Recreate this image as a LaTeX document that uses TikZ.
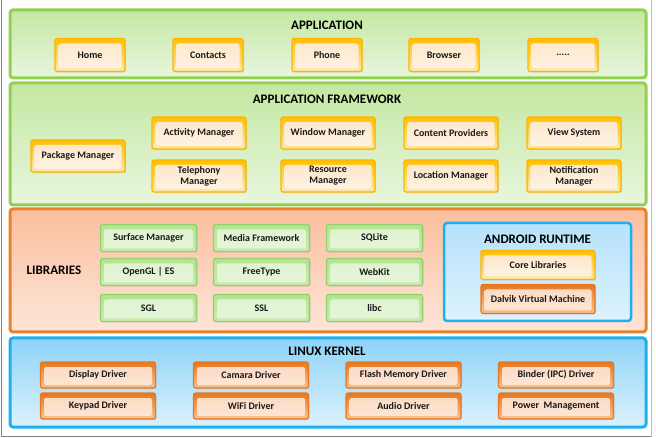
\documentclass[tikz,border=0pt]{standalone}
\usepackage{fontspec}
\setmainfont{Carlito}
\usetikzlibrary{shadows}
\definecolor{grnB}{HTML}{92D050}
\definecolor{grnT}{HTML}{C3E8A2}
\definecolor{grnBo}{HTML}{E9F6DE}
\definecolor{gold}{HTML}{FFC000}
\definecolor{goldL}{HTML}{FFE08A}
\definecolor{peach}{HTML}{FDE6C8}
\definecolor{peachL}{HTML}{FEF3E4}
\definecolor{orgB}{HTML}{E46C0A}
\definecolor{orgT}{HTML}{FBBF9E}
\definecolor{orgBo}{HTML}{FDE5D8}
\definecolor{libB}{HTML}{8FD16A}
\definecolor{libO}{HTML}{B4E38F}
\definecolor{libI}{HTML}{E6F6DA}
\definecolor{bluB}{HTML}{1CB1EE}
\definecolor{bluT}{HTML}{8ED3F7}
\definecolor{bluBo}{HTML}{DCF2FD}
\definecolor{rtT}{HTML}{B6E2FA}
\definecolor{rtBo}{HTML}{DDF2FD}
\definecolor{drvB}{HTML}{E8771E}
\definecolor{drvO}{HTML}{F7A763}
\definecolor{drvI}{HTML}{FCD9C0}
\definecolor{drvIL}{HTML}{FDE7D7}
\tikzset{
  layer/.style={rounded corners=3pt, line width=3pt},
  glayer/.style={layer, draw=grnB, top color=grnT, bottom color=grnBo},
  olayer/.style={layer, draw=orgB!85, top color=orgT, bottom color=orgBo},
  blayer/.style={layer, draw=bluB, top color=bluT, bottom color=bluBo},
  rlayer/.style={layer, line width=2.5pt, draw=bluB, top color=rtT, bottom color=rtBo},
  ttl/.style={font=\fontsize{13}{15}\selectfont\bfseries, text=black},
  lbl/.style={font=\fontsize{10}{11}\selectfont\bfseries, align=center, text=black!90},
  boxbase/.style={lbl, rounded corners=2pt, inner sep=1pt,
    drop shadow={opacity=0.18, shadow xshift=1pt, shadow yshift=-1.2pt}},
  inrect/.style n args={2}{path picture={
    \shade[top color=#1, bottom color=#2]
      ([shift={(3.5pt,-5pt)}]path picture bounding box.north west) rectangle
      ([shift={(-3.5pt,3pt)}]path picture bounding box.south east);}},
  appbox/.style={boxbase, draw=gold!80!orange, line width=1.2pt,
    top color=gold, bottom color=goldL!70!white, inrect={peach}{peachL}},
  libbox/.style={boxbase, draw=libB, line width=1.2pt,
    top color=libO, bottom color=libO!70!white, inrect={libI!85!libO}{libI}},
  drvbox/.style={boxbase, draw=drvB, line width=1.2pt,
    top color=drvB, bottom color=drvO!70!white, inrect={drvI}{drvIL}},
}
\begin{document}
\begin{tikzpicture}[x=1pt,y=-1pt]
\useasboundingbox (0,0) rectangle (656,438);
% outer frame (left, bottom, right)
\draw[black!50, line width=1pt] (1.5,0) -- (1.5,436.5) -- (651,436.5);
\draw[black!25, line width=1pt] (651,436.5) -- (651,0);

% ---------- APPLICATION ----------
\path[glayer] (10,10) rectangle (646,78);
\node[ttl] (tapp) at (327,25) {APPLICATION};
\begin{scope}[every node/.style={appbox, minimum width=70pt, minimum height=33pt}]
\node (home) at (90,55) {Home};
\node (contacts) at (208,55) {Contacts};
\node (phone) at (327,55) {Phone};
\node (browser) at (444,55) {Browser};
\node (more) at (563,55) {.....};
\end{scope}

% ---------- APPLICATION FRAMEWORK ----------
\path[glayer] (10,83) rectangle (646,205);
\node[ttl] (tfw) at (327,99) {APPLICATION FRAMEWORK};
\begin{scope}[every node/.style={appbox, minimum width=94pt, minimum height=32pt}]
\node (pkg) at (78,156) {Package Manager};
\node (act) at (199,133) {Activity Manager};
\node (win) at (328,133) {Window Manager};
\node (cnt) at (451,133) {Content Providers};
\node (view) at (574,133) {View System};
\node (tel) at (199,176) {Telephony\\Manager};
\node (res) at (328,176) {Resource\\Manager};
\node (loc) at (451,176) {Location Manager};
\node (noti) at (574,176) {Notification\\Manager};
\end{scope}

% ---------- LIBRARIES ----------
\path[olayer] (10,209) rectangle (646,332);
\node[ttl] (tlib) at (54,270) {LIBRARIES};
\begin{scope}[every node/.style={libbox, minimum width=96pt, minimum height=27pt}]
\node (surf) at (148.5,238) {Surface Manager};
\node (media) at (261.5,238) {Media Framework};
\node (sqlite) at (374.5,238) {SQLite};
\node (ogl) at (148.5,272) {OpenGL | ES};
\node (ft) at (261.5,272) {FreeType};
\node (webkit) at (374.5,272) {WebKit};
\node (sgl) at (148.5,308) {SGL};
\node (ssl) at (261.5,308) {SSL};
\node (libc) at (374.5,308) {libc};
\end{scope}

% Android runtime
\path[rlayer] (444,223) rectangle (631,321);
\node[ttl] (trt) at (537.5,239) {ANDROID RUNTIME};
\node[appbox, minimum width=114pt, minimum height=29pt] (core) at (538,265) {Core Libraries};
\node[drvbox, minimum width=114pt, minimum height=29pt] (dalvik) at (538,299) {Dalvik Virtual Machine};

% ---------- LINUX KERNEL ----------
\path[blayer] (10,338) rectangle (646,427);
\node[ttl] (tk) at (327,351) {LINUX KERNEL};
\begin{scope}[every node/.style={drvbox, minimum width=115pt, minimum height=26pt}]
\node (disp) at (98,375) {Display Driver};
\node (cam) at (251,375) {Camara Driver};
\node (flash) at (403.5,375) {Flash Memory Driver};
\node (binder) at (556,375) {Binder (IPC) Driver};
\node (key) at (98,406) {Keypad Driver};
\node (wifi) at (251,406) {WiFi Driver};
\node (audio) at (403.5,406) {Audio Driver};
\node (power) at (556,406) {Power\ \ Management};
\end{scope}
\end{tikzpicture}
\end{document}
